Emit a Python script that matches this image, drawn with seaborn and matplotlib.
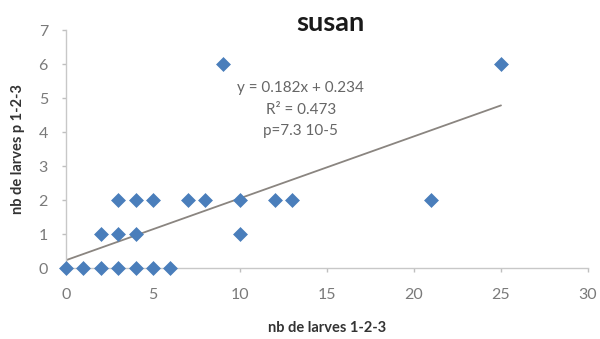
import numpy as np
import pandas as pd
import matplotlib
matplotlib.use("Agg")
import matplotlib.pyplot as plt
import seaborn as sns

# data
larves_123 = [0, 1, 2, 3, 4, 5, 6, 2, 3, 4, 3, 4, 5, 7, 8, 10, 10, 12, 13, 21, 9, 25]
larves_p123 = [0, 0, 0, 0, 0, 0, 0, 1, 1, 1, 2, 2, 2, 2, 2, 2, 1, 2, 2, 2, 6, 6]
slope = 0.182
intercept = 0.234
eq_lines = ["y = 0.182x + 0.234", "R² = 0.473", "p=7.3 10-5"]
x_ticks = [0, 5, 10, 15, 20, 25, 30]
y_ticks = [0, 1, 2, 3, 4, 5, 6, 7]

sns.set_style("white")
plt.rcParams['font.family'] = ['Lato', 'DejaVu Sans']

df = pd.DataFrame({"x": larves_123, "y": larves_p123})

fig = plt.figure(figsize=(6.0, 3.39), dpi=100)
ax = fig.add_axes([0.11, 0.209, 0.87, 0.7025])

# trend line
xl = np.array([min(larves_123), max(larves_123)])
ax.plot(xl, slope * xl + intercept, color="#8a8580", lw=1.3, zorder=2)

sns.scatterplot(data=df, x="x", y="y", marker="D", s=50, color="#4a7ebb",
                edgecolor="#4a7ebb", linewidth=0.5, ax=ax, zorder=3, clip_on=False)

ax.set_xlim(0, 30)
ax.set_ylim(0, 7)
ax.set_xticks(x_ticks)
ax.set_yticks(y_ticks)
ax.tick_params(axis="both", colors="#bfbfbf", labelcolor="#7a7a7a", labelsize=11.5,
               direction="out", length=3, width=1, left=True, bottom=True)
ax.tick_params(axis="x", pad=11)
ax.tick_params(axis="y", pad=10)
for s in ["top", "right"]:
    ax.spines[s].set_visible(False)
for s in ["left", "bottom"]:
    ax.spines[s].set_color("#c8c8c8")
    ax.spines[s].set_linewidth(1)

ax.set_xlabel("nb de larves 1-2-3", fontsize=10.5, fontweight="bold", color="#333333", labelpad=14)
ax.set_ylabel("nb de larves p 1-2-3", fontsize=10.5, fontweight="bold", color="#333333", labelpad=10)
fig.text(0.55, 0.932, "susan", ha="center", va="center", fontsize=19.5, fontweight="bold", color="#1a1a1a")

for i, t in enumerate(eq_lines):
    ax.text(13.5, 5.3 - i * 0.64, t, ha="center", va="center", fontsize=11, color="#666666")

fig.savefig("out.png", dpi=100)
